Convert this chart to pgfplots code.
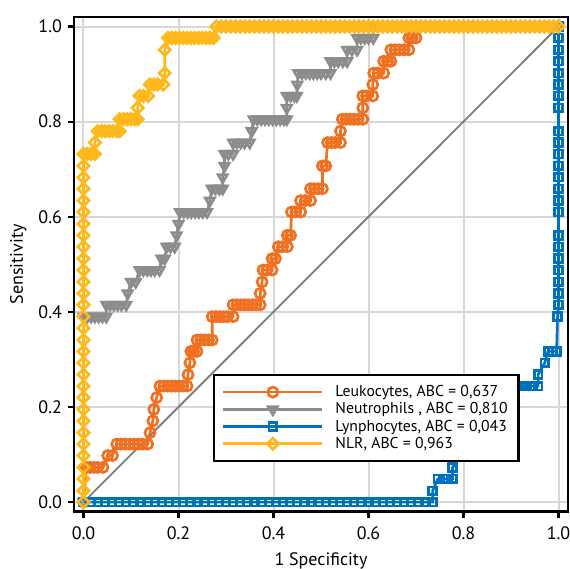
\documentclass[border=0pt]{standalone}
\usepackage{fontspec}
\setmainfont{PT Sans}
\usepackage{pgfplots}
\pgfplotsset{compat=1.18}
\usetikzlibrary{plotmarks}

\definecolor{leuko}{RGB}{240,112,33}
\definecolor{neutro}{RGB}{140,140,140}
\definecolor{lympho}{RGB}{0,114,189}
\definecolor{nlr}{RGB}{255,184,28}
\definecolor{diag}{RGB}{125,125,125}
\definecolor{gridc}{RGB}{215,215,215}

\begin{document}
\begin{tikzpicture}
\useasboundingbox (-55.5pt,-42.75pt) rectangle (372pt,383.75pt);
\begin{axis}[
    scale only axis,
    width=370.5pt, height=371pt,
    xmin=-0.02, xmax=1.02, ymin=-0.02, ymax=1.02,
    xtick={0,0.2,0.4,0.6,0.8,1}, ytick={0,0.2,0.4,0.6,0.8,1},
    tick label style={font=\fontsize{13.5}{16}\selectfont,
        /pgf/number format/fixed, /pgf/number format/fixed zerofill,
        /pgf/number format/precision=1, /pgf/number format/assume math mode=true},
    xticklabel style={yshift=-3pt},
    yticklabel style={xshift=-1pt},
    label style={font=\fontsize{13.5}{16}\selectfont},
    xlabel={1 Specificity}, ylabel={Sensitivity},
    xlabel style={yshift=-3pt},
    ylabel style={yshift=2pt},
    tick align=outside, xtick pos=bottom, ytick pos=left,
    major tick length=4.5pt,
    tick style={black, line width=1.6pt},
    axis line style={black, line width=2pt},
    grid=major,
    major grid style={draw=gridc, line width=1.5pt},
    legend style={at={(0.902,0.1)}, anchor=south east, draw=black, line width=1.8pt,
        fill=white, font=\fontsize{11.8}{14}\selectfont, cells={anchor=west},
        inner xsep=6pt, inner ysep=6pt, row sep=-1pt,
        /tikz/every odd column/.append style={column sep=7pt}},
    legend image code/.code={\draw[mark repeat=2, mark phase=2] plot coordinates {(0pt,0pt) (37pt,0pt) (74pt,0pt)};},
]

% Leukocytes
\addplot[leuko, line width=2pt, mark=o, mark size=3.8pt, mark options={fill=white, solid}] coordinates {
(0,0) (0.006,0.073) (0.014,0.073) (0.022,0.073) (0.030,0.073) (0.041,0.073)
(0.051,0.098) (0.061,0.098)
(0.070,0.122) (0.079,0.122) (0.088,0.122) (0.097,0.122) (0.106,0.122) (0.115,0.122) (0.124,0.122) (0.135,0.122)
(0.140,0.146) (0.146,0.171) (0.148,0.195) (0.154,0.220)
(0.161,0.244) (0.169,0.244) (0.177,0.244) (0.185,0.244) (0.193,0.244) (0.201,0.244) (0.209,0.244) (0.218,0.244)
(0.220,0.268) (0.224,0.293)
(0.226,0.317) (0.232,0.317) (0.239,0.317)
(0.239,0.341) (0.247,0.341) (0.255,0.341) (0.263,0.341) (0.271,0.341)
(0.271,0.390) (0.279,0.390) (0.287,0.390) (0.295,0.390) (0.303,0.390) (0.315,0.390)
(0.315,0.415) (0.323,0.415) (0.331,0.415) (0.339,0.415) (0.347,0.415) (0.355,0.415) (0.363,0.415) (0.372,0.415)
(0.372,0.439) (0.376,0.463)
(0.378,0.488) (0.386,0.488) (0.397,0.488)
(0.397,0.512) (0.404,0.512)
(0.410,0.537) (0.419,0.537) (0.429,0.537)
(0.429,0.561) (0.436,0.561)
(0.438,0.610) (0.447,0.610) (0.457,0.610)
(0.457,0.634) (0.467,0.634) (0.478,0.634)
(0.478,0.659) (0.486,0.659) (0.494,0.659) (0.503,0.659)
(0.503,0.707) (0.510,0.707)
(0.514,0.756) (0.522,0.756) (0.530,0.756) (0.541,0.756)
(0.541,0.780)
(0.545,0.805) (0.553,0.805) (0.561,0.805) (0.569,0.805) (0.578,0.805) (0.588,0.805)
(0.588,0.829)
(0.588,0.854) (0.596,0.854) (0.609,0.854)
(0.609,0.878)
(0.611,0.902) (0.620,0.902) (0.632,0.902)
(0.632,0.927) (0.640,0.927) (0.647,0.927)
(0.647,0.951) (0.656,0.951) (0.665,0.951) (0.675,0.951) (0.685,0.951)
(0.685,0.976) (0.692,0.976) (0.700,0.976)
(0.700,1.000) (1.000,1.000)
};
\addlegendentry{Leukocytes, ABC = 0,637}

% Neutrophils
\addplot[neutro, line width=2pt, mark=triangle, mark size=4pt, mark options={fill=white, solid, rotate=180}] coordinates {
(0,0) (0,0.390) (0.008,0.390) (0.016,0.390) (0.024,0.390) (0.032,0.390) (0.040,0.390) (0.048,0.390)
(0.048,0.415) (0.056,0.415) (0.064,0.415) (0.072,0.415) (0.080,0.415) (0.090,0.415)
(0.093,0.439)
(0.100,0.463) (0.110,0.463)
(0.118,0.488) (0.126,0.488) (0.134,0.488) (0.142,0.488) (0.150,0.488) (0.160,0.488)
(0.164,0.512) (0.171,0.512)
(0.175,0.537) (0.183,0.537) (0.192,0.537)
(0.196,0.561) (0.200,0.585)
(0.203,0.610) (0.211,0.610) (0.219,0.610) (0.227,0.610) (0.235,0.610) (0.243,0.610) (0.251,0.610) (0.260,0.610)
(0.266,0.634)
(0.270,0.659) (0.278,0.659) (0.286,0.659) (0.293,0.659)
(0.293,0.683) (0.297,0.707)
(0.297,0.732) (0.305,0.732) (0.315,0.732)
(0.315,0.756) (0.323,0.756) (0.331,0.756) (0.339,0.756) (0.350,0.756)
(0.354,0.780)
(0.358,0.805) (0.366,0.805) (0.374,0.805) (0.382,0.805) (0.390,0.805) (0.398,0.805) (0.406,0.805) (0.414,0.805) (0.422,0.805) (0.428,0.805)
(0.428,0.829)
(0.428,0.854) (0.436,0.854) (0.444,0.854) (0.449,0.854)
(0.450,0.878)
(0.452,0.902) (0.460,0.902) (0.468,0.902) (0.476,0.902) (0.484,0.902) (0.492,0.902) (0.500,0.902) (0.510,0.902) (0.520,0.902)
(0.520,0.927) (0.528,0.927) (0.536,0.927) (0.546,0.927) (0.555,0.927)
(0.555,0.951) (0.565,0.951) (0.576,0.951)
(0.576,0.976) (0.584,0.976) (0.592,0.976) (0.600,0.976) (0.610,0.976)
(0.610,1.000) (1.000,1.000)
};
\addlegendentry{Neutrophils , ABC = 0,810}

% Lynphocytes
\addplot[lympho, line width=2pt, mark=square, mark size=2.9pt, mark options={fill=white, solid}] coordinates {
(0,0) (0.015,0) (0.030,0) (0.045,0) (0.060,0) (0.075,0) (0.090,0) (0.105,0) (0.120,0) (0.135,0)
(0.150,0) (0.165,0) (0.180,0) (0.195,0) (0.210,0) (0.225,0) (0.240,0) (0.255,0) (0.270,0) (0.285,0)
(0.300,0) (0.315,0) (0.330,0) (0.345,0) (0.360,0) (0.375,0) (0.390,0) (0.405,0) (0.420,0) (0.435,0)
(0.450,0) (0.465,0) (0.480,0) (0.495,0) (0.510,0) (0.525,0) (0.540,0) (0.555,0) (0.570,0) (0.585,0)
(0.600,0) (0.615,0) (0.630,0) (0.645,0) (0.660,0) (0.675,0) (0.690,0) (0.705,0) (0.720,0) (0.735,0)
(0.735,0.024) (0.746,0.049) (0.757,0.049) (0.767,0.049) (0.777,0.049) (0.777,0.073)
(0.795,0.098) (0.810,0.122) (0.830,0.146) (0.850,0.171) (0.865,0.195) (0.880,0.220)
(0.895,0.244) (0.910,0.244) (0.922,0.244) (0.933,0.244) (0.945,0.244) (0.957,0.244)
(0.957,0.268) (0.971,0.293) (0.978,0.317) (0.987,0.317) (0.996,0.317) (0.998,0.390)
(1,0.415) (1,0.439) (1,0.463) (1,0.488) (1,0.512) (1,0.537) (1,0.561) (1,0.610) (1,0.634)
(1,0.659) (1,0.683) (1,0.707) (1,0.732) (1,0.756) (1,0.780) (1,0.829) (1,0.854) (1,0.878)
(1,0.902) (1,0.927) (1,0.951) (1,0.976) (1,1)
};
\addlegendentry{Lynphocytes, ABC = 0,043}

% NLR
\addplot[nlr, line width=2pt, mark=square, mark size=3pt, mark options={fill=white, solid, rotate=45}] coordinates {
(0,0) (0,0.024) (0,0.049) (0,0.073) (0,0.098) (0,0.122) (0,0.146) (0,0.171) (0,0.195) (0,0.220)
(0,0.244) (0,0.268) (0,0.293) (0,0.317) (0,0.341) (0,0.366) (0,0.390) (0,0.415) (0,0.439) (0,0.463)
(0,0.488) (0,0.512) (0,0.537) (0,0.561) (0,0.585) (0,0.610) (0,0.634) (0,0.659) (0,0.683) (0,0.707) (0,0.732)
(0.008,0.732) (0.016,0.732) (0.024,0.732) (0.024,0.756)
(0.030,0.780) (0.038,0.780) (0.046,0.780) (0.054,0.780) (0.062,0.780) (0.070,0.780) (0.076,0.780)
(0.076,0.805) (0.084,0.805) (0.092,0.805) (0.100,0.805) (0.108,0.805) (0.114,0.805)
(0.114,0.829)
(0.118,0.854) (0.126,0.854) (0.136,0.854)
(0.140,0.878) (0.148,0.878) (0.156,0.878) (0.168,0.878)
(0.171,0.902) (0.171,0.951)
(0.178,0.976) (0.186,0.976) (0.194,0.976) (0.202,0.976) (0.210,0.976) (0.218,0.976) (0.226,0.976)
(0.234,0.976) (0.242,0.976) (0.250,0.976) (0.258,0.976) (0.266,0.976) (0.274,0.976)
(0.28,1) (0.29,1) (0.30,1) (0.31,1) (0.32,1) (0.33,1) (0.34,1) (0.35,1) (0.36,1) (0.37,1)
(0.38,1) (0.39,1) (0.40,1) (0.41,1) (0.42,1) (0.43,1) (0.44,1) (0.45,1) (0.46,1) (0.47,1)
(0.48,1) (0.49,1) (0.50,1) (0.51,1) (0.52,1) (0.53,1) (0.54,1) (0.55,1) (0.56,1) (0.57,1)
(0.58,1) (0.59,1) (0.60,1) (0.61,1) (0.62,1) (0.63,1) (0.64,1) (0.65,1) (0.66,1) (0.67,1)
(0.68,1) (0.69,1) (0.70,1) (0.71,1) (0.72,1) (0.73,1) (0.74,1) (0.75,1) (0.76,1) (0.77,1)
(0.78,1) (0.79,1) (0.80,1) (0.81,1) (0.82,1) (0.83,1) (0.84,1) (0.85,1) (0.86,1) (0.87,1)
(0.88,1) (0.89,1) (0.90,1) (0.91,1) (0.92,1) (0.93,1) (0.94,1) (0.95,1) (0.96,1) (0.97,1)
(0.98,1) (0.99,1) (1.00,1)
};
\addlegendentry{NLR, ABC = 0,963}

% chance line
\addplot[diag, line width=1.4pt, forget plot] coordinates {(0,0) (1,1)};

\end{axis}
\end{tikzpicture}
\end{document}
